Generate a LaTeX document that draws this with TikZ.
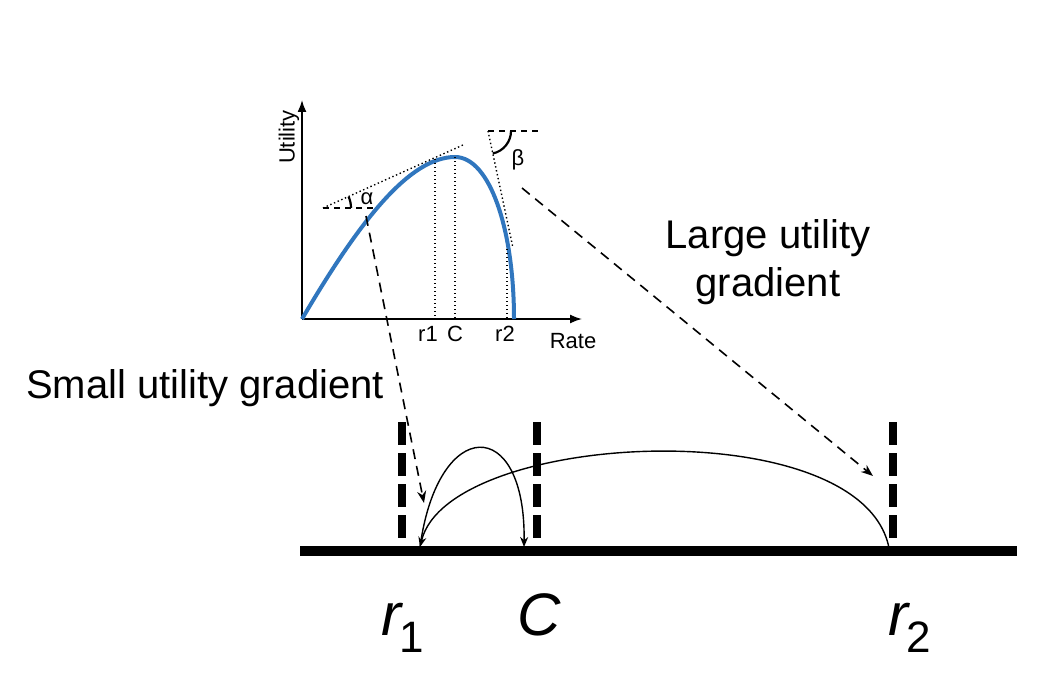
\documentclass[tikz,border=0pt]{standalone}
\usepackage{fontspec}
\setmainfont{Liberation Sans}
\usetikzlibrary{arrows.meta,positioning,calc}
\definecolor{curveblue}{RGB}{48,118,190}
\newcommand{\ratelbl}[2]{{\itshape #1}\kern-1pt\raisebox{-8.5pt}{\fontsize{22}{22}\selectfont #2}}
\tikzset{
  axis/.style={-{Latex[length=6pt,width=4.5pt]},line width=.8pt},
  guide/.style={line width=.7pt,dash pattern=on .7pt off 1.3pt},
  hguide/.style={line width=.8pt,dash pattern=on 3pt off 2.5pt},
  pointer/.style={-{Stealth[length=6pt,width=4.5pt]},line width=.8pt,
                  dash pattern=on 5pt off 3.5pt},
  ground/.style={line width=5pt},
  bound/.style={line width=4pt,dash pattern=on 11.5pt off 4pt},
  hop/.style={-{Stealth[length=5pt,width=4pt]},line width=.7pt},
  small/.style={font=\fontsize{11}{13}\selectfont,inner sep=0pt},
  big/.style={font=\fontsize{20}{24}\selectfont,inner sep=0pt,align=center},
  mathlbl/.style={font=\fontsize{30}{34}\selectfont,inner sep=0pt,anchor=base west},
}

\begin{document}
\begin{tikzpicture}[x=0.5pt,y=-0.5pt]
  \useasboundingbox (0,0) rectangle (1054,690);
  % inset: utility vs rate
  \coordinate (O)    at (302,319);
  \coordinate (xtip) at (582,319);
  \coordinate (ytip) at (302,100);
  \draw[axis] (O) -- (xtip);
  \draw[axis] (O) -- (ytip);
  \node[small]           (rate) at (573,341) {Rate};
  \node[small,rotate=90] (util) at (289,137) {Utility};
  \draw[curveblue,line width=2pt]
    (O) .. controls (360,220) and (410,157) .. (455,157)
        .. controls (490,157) and (514,230) .. (514,319);
  % ticks on the rate axis
  \foreach \n/\x/\top/\lx in {r1/435/159/428,C/455/157/455,r2/507/249/505}
    {\draw[guide] (\x,\top) -- (\x,319);
     \node[small] (t\n) at (\lx,334) {\n};}
  % angle alpha
  \coordinate (alo) at (323,208);
  \coordinate (ahi) at (463,145);
  \draw[guide] (alo) -- (ahi);
  \draw[hguide] (alo) -- ++(50,0);
  \draw[line width=1.1pt] (alo) ++(28,0) arc (0:-24:28);
  \node[small] (alpha) at (367,199) {α};
  % angle beta
  \coordinate (blo) at (488,131);
  \coordinate (bhi) at (513,248);
  \draw[guide] (blo) -- (bhi);
  \draw[hguide] (blo) -- ++(50,0);
  \draw[line width=1.1pt] (blo) ++(23,0) arc (0:78:23);
  \node[small] (beta) at (518,160) {β};
  % captions
  \node[big] (small) at (205,388) {Small utility gradient};
  \node[big] (large) at (768,262) {Large utility\\gradient};
  % rate line
  \coordinate (gl) at (300,551);
  \coordinate (gr) at (1017,551);
  \draw[ground] (gl) -- (gr);
  \foreach \n/\x in {r1/402,C/537,r2/893}
    {\draw[bound] (\x,422) coordinate (u\n) -- (\x,548) coordinate (d\n);}
  \node[mathlbl] (lr1) at (381,635) {\ratelbl{r}{1}};
  \node[mathlbl] (lC)  at (517,635) {\itshape C};
  \node[mathlbl] (lr2) at (888,635) {\ratelbl{r}{2}};
  % jumps
  \coordinate (br1) at (420,547);
  \coordinate (bC)  at (524,547);
  \coordinate (br2) at (889,548);
  \draw[hop] (br2) .. controls (862,410) and (448,430) .. (br1);
  \draw[hop] (br1) .. controls (438,415) and (526,415) .. (bC);
  % pointers from the inset
  \coordinate (pa) at (366,216);
  \coordinate (qa) at (424,503);
  \coordinate (pb) at (522,188);
  \coordinate (qb) at (873,476);
  \draw[pointer] (pa) -- (qa);
  \draw[pointer] (pb) -- (qb);
\end{tikzpicture}
\end{document}
